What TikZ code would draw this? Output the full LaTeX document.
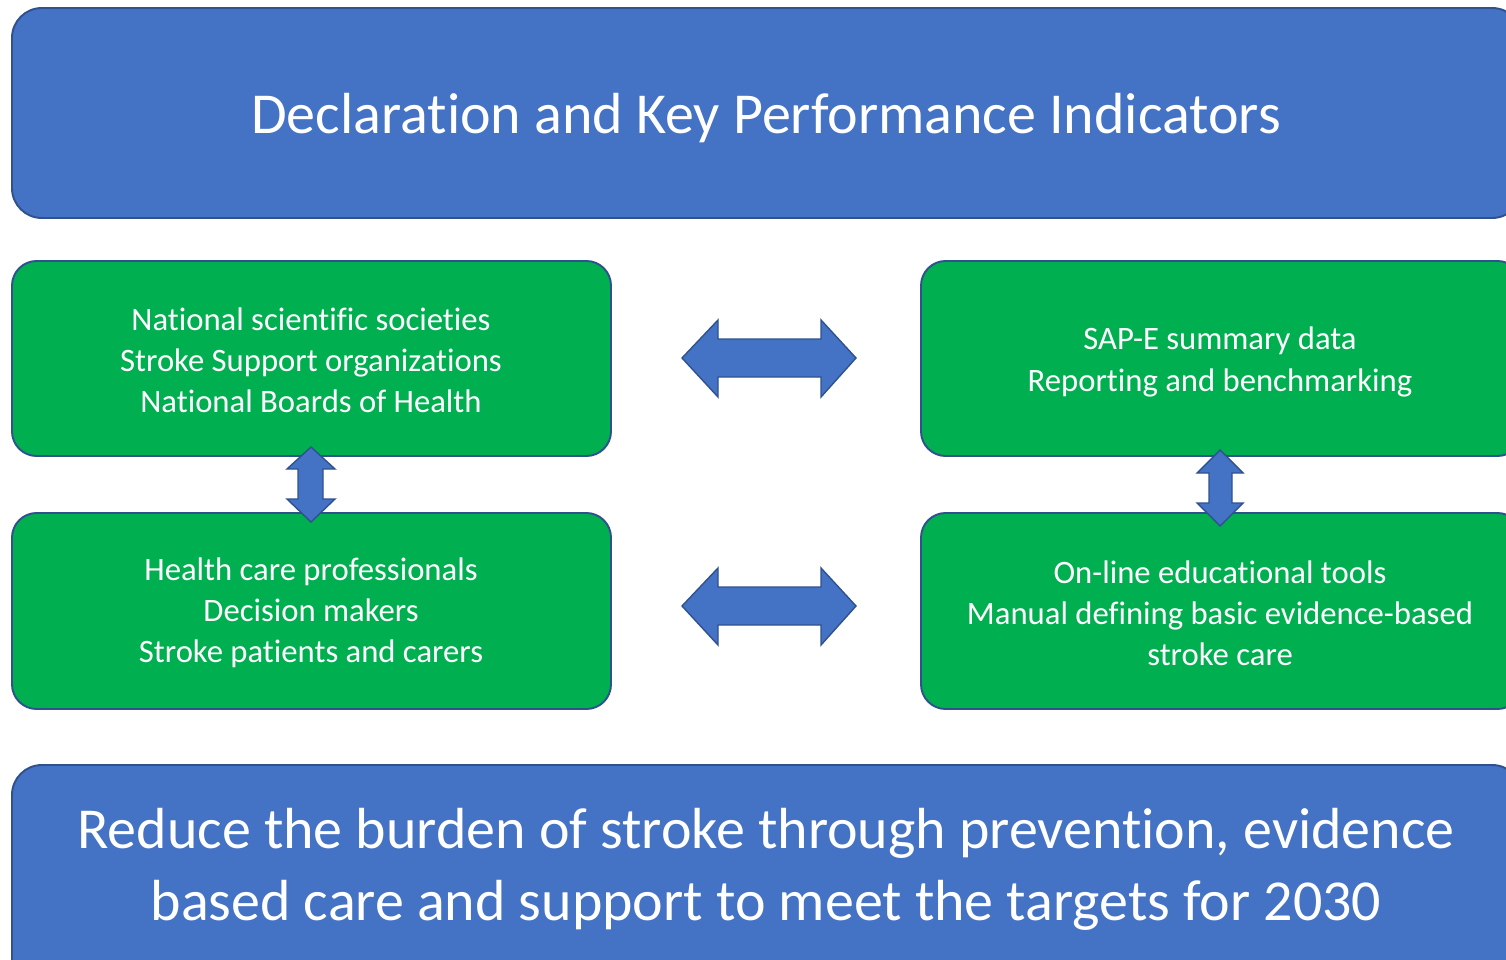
\documentclass[tikz,border=0pt]{standalone}
\usepackage{fontspec}
\setmainfont{Carlito}[Ligatures=NoCommon]
\usepackage{tikz}

\definecolor{boxblue}{HTML}{4472C4}
\definecolor{boxgreen}{HTML}{00B050}
\definecolor{edgeblue}{HTML}{2F528F}

\tikzset{
    bluebox/.style={fill=boxblue, draw=edgeblue, line width=1.1pt, rounded corners=17pt},
    greenbox/.style={fill=boxgreen, draw=edgeblue, line width=1.1pt, rounded corners=14pt},
    blockarrow/.style={fill=boxblue, draw=edgeblue, line width=0.8pt},
    boxtext/.style={text=white, align=center, font=\fontsize{18.6}{23.4}\selectfont}
}

\begin{document}
\begin{tikzpicture}[x=0.02cm, y=-0.02cm]
    \useasboundingbox (0, 0) rectangle (1506, 959);
    \clip (0, 0) rectangle (1506, 959);

    % top and bottom bands
    \draw[bluebox] (12, 8) rectangle (1522, 218);
    \draw[bluebox] (12, 765) rectangle (1522, 990);
    \node[text=white, font=\fontsize{33}{40}\selectfont] (title) at (766, 118)
        {Declaration and Key Performance Indicators};
    \node[text=white, align=center, font=\fontsize{33}{41}\selectfont] (goal) at (766, 869)
        {Reduce the burden of stroke through prevention, evidence\\based care and support to meet the targets for 2030};

    % green boxes
    \draw[greenbox] (12, 261) rectangle (611, 456);
    \draw[greenbox] (12, 513) rectangle (611, 709);
    \draw[greenbox] (921, 261) rectangle (1522, 456);
    \draw[greenbox] (921, 513) rectangle (1522, 709);
    \node[boxtext] (societies) at (311, 360)
        {National scientific societies\\Stroke Support organizations\\National Boards of Health};
    \node[boxtext] (people) at (311, 613)
        {Health care professionals\\Decision makers\\Stroke patients and carers};
    \node[boxtext] (data) at (1220, 362)
        {SAP-E summary data\\Reporting and benchmarking};
    \node[boxtext] (tools) at (1220, 613)
        {On-line educational tools\\Manual defining basic evidence-based\\stroke care};

    % horizontal double arrows
    \draw[blockarrow] (682, 358) -- (718, 320) -- (718, 339) -- (821, 339) -- (821, 320)
        -- (856, 358) -- (821, 397) -- (821, 377) -- (718, 377) -- (718, 397) -- cycle;
    \draw[blockarrow] (682, 606) -- (718, 568) -- (718, 587) -- (821, 587) -- (821, 568)
        -- (856, 606) -- (821, 645) -- (821, 625) -- (718, 625) -- (718, 645) -- cycle;

    % vertical double arrows
    \draw[blockarrow] (311, 447) -- (335, 469) -- (323, 469) -- (323, 499) -- (335, 499)
        -- (311, 522) -- (287, 499) -- (298, 499) -- (298, 469) -- (287, 469) -- cycle;
    \draw[blockarrow] (1220, 450) -- (1243, 473) -- (1232, 473) -- (1232, 503) -- (1243, 503)
        -- (1220, 526) -- (1197, 503) -- (1209, 503) -- (1209, 473) -- (1197, 473) -- cycle;
\end{tikzpicture}
\end{document}
